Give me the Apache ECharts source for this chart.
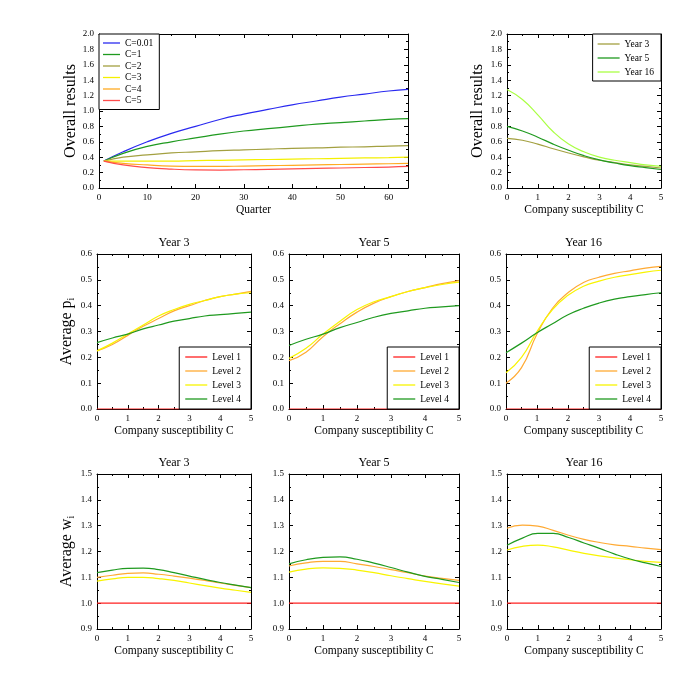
<!DOCTYPE html>
<html>
<head>
<meta charset="utf-8">
<script src="https://cdn.jsdelivr.net/npm/echarts@6/dist/echarts.min.js"></script>
<style>
  html, body { margin: 0; padding: 0; background: #fff; }
  #chart { width: 695px; height: 695px; }
</style>
</head>
<body>
<div id="chart"></div>
<script>
// ---- data ----
const quarters = [1, 5, 10, 15, 20, 25, 30, 35, 40, 45, 50, 55, 60, 64];
const overallC001 = [0.35, 0.47, 0.60, 0.71, 0.80, 0.89, 0.96, 1.02, 1.08, 1.13, 1.18, 1.22, 1.26, 1.28];
const overallC1 = [0.35, 0.45, 0.54, 0.60, 0.65, 0.70, 0.74, 0.77, 0.80, 0.83, 0.85, 0.87, 0.89, 0.90];
const overallC2 = [0.35, 0.40, 0.43, 0.455, 0.47, 0.485, 0.495, 0.505, 0.515, 0.52, 0.53, 0.535, 0.545, 0.55];
const overallC3 = [0.35, 0.35, 0.35, 0.35, 0.355, 0.36, 0.365, 0.37, 0.375, 0.38, 0.385, 0.39, 0.395, 0.40];
const overallC4 = [0.35, 0.32, 0.30, 0.285, 0.28, 0.28, 0.285, 0.29, 0.295, 0.30, 0.305, 0.31, 0.315, 0.32];
const overallC5 = [0.35, 0.30, 0.265, 0.245, 0.235, 0.233, 0.237, 0.242, 0.248, 0.254, 0.26, 0.266, 0.272, 0.28];

const susceptibility = [0, 0.5, 1, 1.5, 2, 2.5, 3, 3.5, 4, 4.5, 5];
const overallYear3 = [0.645, 0.62, 0.57, 0.51, 0.455, 0.405, 0.36, 0.33, 0.30, 0.28, 0.26];
const overallYear5 = [0.80, 0.74, 0.66, 0.57, 0.49, 0.42, 0.365, 0.325, 0.29, 0.265, 0.24];
const overallYear16 = [1.28, 1.15, 0.95, 0.73, 0.57, 0.47, 0.40, 0.36, 0.33, 0.30, 0.28];

const pYear3Level1 = [0, 0, 0, 0, 0, 0, 0, 0, 0, 0, 0];
const pYear3Level2 = [0.225, 0.25, 0.285, 0.32, 0.35, 0.38, 0.40, 0.42, 0.435, 0.445, 0.455];
const pYear3Level3 = [0.225, 0.255, 0.29, 0.325, 0.36, 0.385, 0.405, 0.42, 0.435, 0.445, 0.45];
const pYear3Level4 = [0.257, 0.275, 0.29, 0.31, 0.325, 0.34, 0.35, 0.36, 0.365, 0.37, 0.375];

const pYear5Level1 = [0, 0, 0, 0, 0, 0, 0, 0, 0, 0, 0];
const pYear5Level2 = [0.187, 0.22, 0.28, 0.33, 0.375, 0.41, 0.435, 0.455, 0.47, 0.485, 0.497];
const pYear5Level3 = [0.196, 0.235, 0.29, 0.34, 0.385, 0.415, 0.435, 0.455, 0.47, 0.482, 0.491];
const pYear5Level4 = [0.246, 0.27, 0.29, 0.315, 0.335, 0.355, 0.37, 0.38, 0.39, 0.395, 0.40];

const pYear16Level1 = [0, 0, 0, 0, 0, 0, 0, 0, 0, 0, 0];
const pYear16Level2 = [0.10, 0.16, 0.29, 0.39, 0.45, 0.49, 0.51, 0.525, 0.535, 0.545, 0.552];
const pYear16Level3 = [0.14, 0.20, 0.30, 0.385, 0.44, 0.475, 0.495, 0.51, 0.52, 0.53, 0.537];
const pYear16Level4 = [0.218, 0.255, 0.295, 0.33, 0.365, 0.39, 0.41, 0.425, 0.435, 0.443, 0.45];

const wYear3Level1 = [1, 1, 1, 1, 1, 1, 1, 1, 1, 1, 1];
const wYear3Level2 = [1.10, 1.108, 1.115, 1.117, 1.112, 1.105, 1.097, 1.088, 1.078, 1.069, 1.06];
const wYear3Level3 = [1.085, 1.094, 1.10, 1.10, 1.095, 1.088, 1.078, 1.068, 1.058, 1.05, 1.042];
const wYear3Level4 = [1.118, 1.128, 1.135, 1.136, 1.13, 1.118, 1.105, 1.092, 1.08, 1.07, 1.06];

const wYear5Level1 = [1, 1, 1, 1, 1, 1, 1, 1, 1, 1, 1];
const wYear5Level2 = [1.144, 1.156, 1.162, 1.162, 1.152, 1.142, 1.13, 1.118, 1.105, 1.096, 1.088];
const wYear5Level3 = [1.12, 1.132, 1.137, 1.135, 1.128, 1.118, 1.106, 1.095, 1.084, 1.075, 1.066];
const wYear5Level4 = [1.152, 1.168, 1.177, 1.179, 1.17, 1.155, 1.138, 1.12, 1.104, 1.092, 1.08];

const wYear16Level1 = [1, 1, 1, 1, 1, 1, 1, 1, 1, 1, 1];
const wYear16Level2 = [1.29, 1.302, 1.298, 1.282, 1.263, 1.247, 1.235, 1.226, 1.22, 1.213, 1.207];
const wYear16Level3 = [1.206, 1.22, 1.225, 1.218, 1.205, 1.193, 1.183, 1.175, 1.168, 1.162, 1.158];
const wYear16Level4 = [1.224, 1.252, 1.27, 1.27, 1.254, 1.233, 1.212, 1.19, 1.171, 1.156, 1.142];

const cNames = ["C=0.01", "C=1", "C=2", "C=3", "C=4", "C=5"];
const yearNames = ["Year 3", "Year 5", "Year 16"];
const levelNames = ["Level 1", "Level 2", "Level 3", "Level 4"];

// ---- styling / layout ----
const FONT = "Liberation Serif";
const cColors = ["#2a2af0", "#1f9a1f", "#a3a040", "#f4f000", "#ffaa22", "#ff4c4c"];
const yearColors = ["#a3a040", "#1f9a1f", "#aaff44"];
const levelColors = ["#ff2020", "#ffaa33", "#f8f400", "#1f9a1f"];

const frames = [
    {left: 99, top: 34, width: 309, height: 154},
    {left: 507, top: 34, width: 154, height: 154},
    {left: 97, top: 254, width: 154, height: 155},
    {left: 289, top: 254, width: 170, height: 155},
    {left: 506, top: 254, width: 155, height: 155},
    {left: 97, top: 474, width: 154, height: 155},
    {left: 289, top: 474, width: 170, height: 155},
    {left: 507, top: 474, width: 154, height: 155}
];

const xAxes = [];
const yAxes = [];
const series = [];

function baseAxis(gridIndex, min, max, interval) {
    return {
        type: "value",
        gridIndex: gridIndex,
        min: min,
        max: max,
        interval: interval,
        axisLine: {show: true, onZero: false, lineStyle: {color: "#000", width: 1}},
        axisTick: {show: true, inside: true, length: 4, lineStyle: {color: "#000", width: 1}},
        minorTick: {show: true, splitNumber: 2, length: 2, lineStyle: {color: "#000", width: 1}},
        splitLine: {show: false},
        minorSplitLine: {show: false}
    };
}

function addPanel(g, opts) {
    // bottom x axis with labels
    const xMain = baseAxis(g, opts.xMin, opts.xMax, opts.xInterval);
    xMain.position = "bottom";
    xMain.axisLabel = {
        show: true, margin: 5, color: "#000", fontFamily: FONT, fontSize: 9,
        formatter: opts.xFormat
    };
    xMain.name = opts.xName;
    xMain.nameLocation = "middle";
    xMain.nameGap = 16;
    xMain.nameTextStyle = {color: "#000", fontFamily: FONT, fontSize: 11.5};
    // top mirror, carries panel title
    const xTop = baseAxis(g, opts.xMin, opts.xMax, opts.xInterval);
    xTop.position = "top";
    xTop.axisLabel = {show: false};
    if (opts.title) {
        xTop.name = opts.title;
        xTop.nameLocation = "middle";
        xTop.nameGap = 5;
        xTop.nameTextStyle = {color: "#000", fontFamily: FONT, fontSize: 12, verticalAlign: "bottom"};
    }
    // left y axis with labels
    const yMain = baseAxis(g, opts.yMin, opts.yMax, opts.yInterval);
    yMain.position = "left";
    yMain.axisLabel = {
        show: true, margin: 5, color: "#000", fontFamily: FONT, fontSize: 9,
        formatter: (v) => v.toFixed(1)
    };
    if (opts.yName) {
        yMain.name = opts.yName;
        yMain.nameLocation = "middle";
        yMain.nameGap = opts.yNameGap;
        yMain.nameTextStyle = {
            color: "#000", fontFamily: FONT, fontSize: 16,
            rich: {
                s: {fontFamily: FONT, fontSize: 10, color: "#000", verticalAlign: "bottom", padding: [10, 0, 0, 0]}
            }
        };
    }
    const yRight = baseAxis(g, opts.yMin, opts.yMax, opts.yInterval);
    yRight.position = "right";
    yRight.axisLabel = {show: false};

    xAxes.push(xMain, xTop);
    yAxes.push(yMain, yRight);

    opts.lines.forEach(function (ln) {
        series.push({
            type: "line",
            name: ln.name,
            xAxisIndex: 2 * g,
            yAxisIndex: 2 * g,
            data: opts.xs.map((x, i) => [x, ln.ys[i]]),
            smooth: 0.5,
            symbol: "none",
            showSymbol: false,
            lineStyle: {color: ln.color, width: 1.2},
            itemStyle: {color: ln.color},
            silent: true
        });
    });
}

const intFormat = (v) => String(Math.round(v));

addPanel(0, {
    xs: quarters, xMin: 0, xMax: 64, xInterval: 10,
    xFormat: (v) => (v % 10 === 0 ? String(v) : ""),
    xName: "Quarter",
    yMin: 0, yMax: 2, yInterval: 0.2, yName: "Overall results", yNameGap: 19,
    lines: [overallC001, overallC1, overallC2, overallC3, overallC4, overallC5].map((ys, i) => ({
        name: cNames[i], ys: ys, color: cColors[i]
    }))
});

addPanel(1, {
    xs: susceptibility, xMin: 0, xMax: 5, xInterval: 1, xFormat: intFormat,
    xName: "Company susceptibility C",
    yMin: 0, yMax: 2, yInterval: 0.2, yName: "Overall results", yNameGap: 21,
    lines: [overallYear3, overallYear5, overallYear16].map((ys, i) => ({
        name: yearNames[i], ys: ys, color: yearColors[i]
    }))
});

const pSets = [
    [pYear3Level1, pYear3Level2, pYear3Level3, pYear3Level4],
    [pYear5Level1, pYear5Level2, pYear5Level3, pYear5Level4],
    [pYear16Level1, pYear16Level2, pYear16Level3, pYear16Level4]
];
const wSets = [
    [wYear3Level1, wYear3Level2, wYear3Level3, wYear3Level4],
    [wYear5Level1, wYear5Level2, wYear5Level3, wYear5Level4],
    [wYear16Level1, wYear16Level2, wYear16Level3, wYear16Level4]
];

pSets.forEach(function (set, k) {
    addPanel(2 + k, {
        xs: susceptibility, xMin: 0, xMax: 5, xInterval: 1, xFormat: intFormat,
        xName: "Company susceptibility C", title: yearNames[k],
        yMin: 0, yMax: 0.6, yInterval: 0.1,
        yName: k === 0 ? "Average p{s|i}" : null, yNameGap: 20,
        lines: set.map((ys, i) => ({name: levelNames[i], ys: ys, color: levelColors[i]}))
    });
});

wSets.forEach(function (set, k) {
    addPanel(5 + k, {
        xs: susceptibility, xMin: 0, xMax: 5, xInterval: 1, xFormat: intFormat,
        xName: "Company susceptibility C", title: yearNames[k],
        yMin: 0.9, yMax: 1.5, yInterval: 0.1,
        yName: k === 0 ? "Average w{s|i}" : null, yNameGap: 20,
        lines: set.map((ys, i) => ({name: levelNames[i], ys: ys, color: levelColors[i]}))
    });
});

function legendBox(names, pos, itemGap, itemWidth, padding) {
    return Object.assign({
        data: names,
        orient: "vertical",
        icon: "rect",
        itemGap: itemGap,
        itemWidth: itemWidth,
        itemHeight: 1.3,
        padding: padding,
        backgroundColor: "#fff",
        borderColor: "#000",
        borderWidth: 1,
        borderRadius: 0,
        selectedMode: false,
        textStyle: {color: "#000", fontFamily: FONT, fontSize: 9.5, lineHeight: 10}
    }, pos);
}

const chart = echarts.init(document.getElementById("chart"));
chart.setOption({
    animation: false,
    backgroundColor: "#fff",
    grid: frames.map((f) => Object.assign({containLabel: false}, f)),
    xAxis: xAxes,
    yAxis: yAxes,
    legend: [
        legendBox(cNames, {left: 99, top: 34}, 1.5, 17, [4, 6, 4, 4]),
        legendBox(yearNames, {right: 34, top: 34}, 4, 22, [5, 7, 4, 5]),
        legendBox(levelNames, {right: 444, bottom: 286}, 4, 22, [5, 10, 5, 6]),
        legendBox(levelNames, {right: 236, bottom: 286}, 4, 22, [5, 10, 5, 6]),
        legendBox(levelNames, {right: 34, bottom: 286}, 4, 22, [5, 10, 5, 6])
    ],
    series: series
});
</script>
</body>
</html>
